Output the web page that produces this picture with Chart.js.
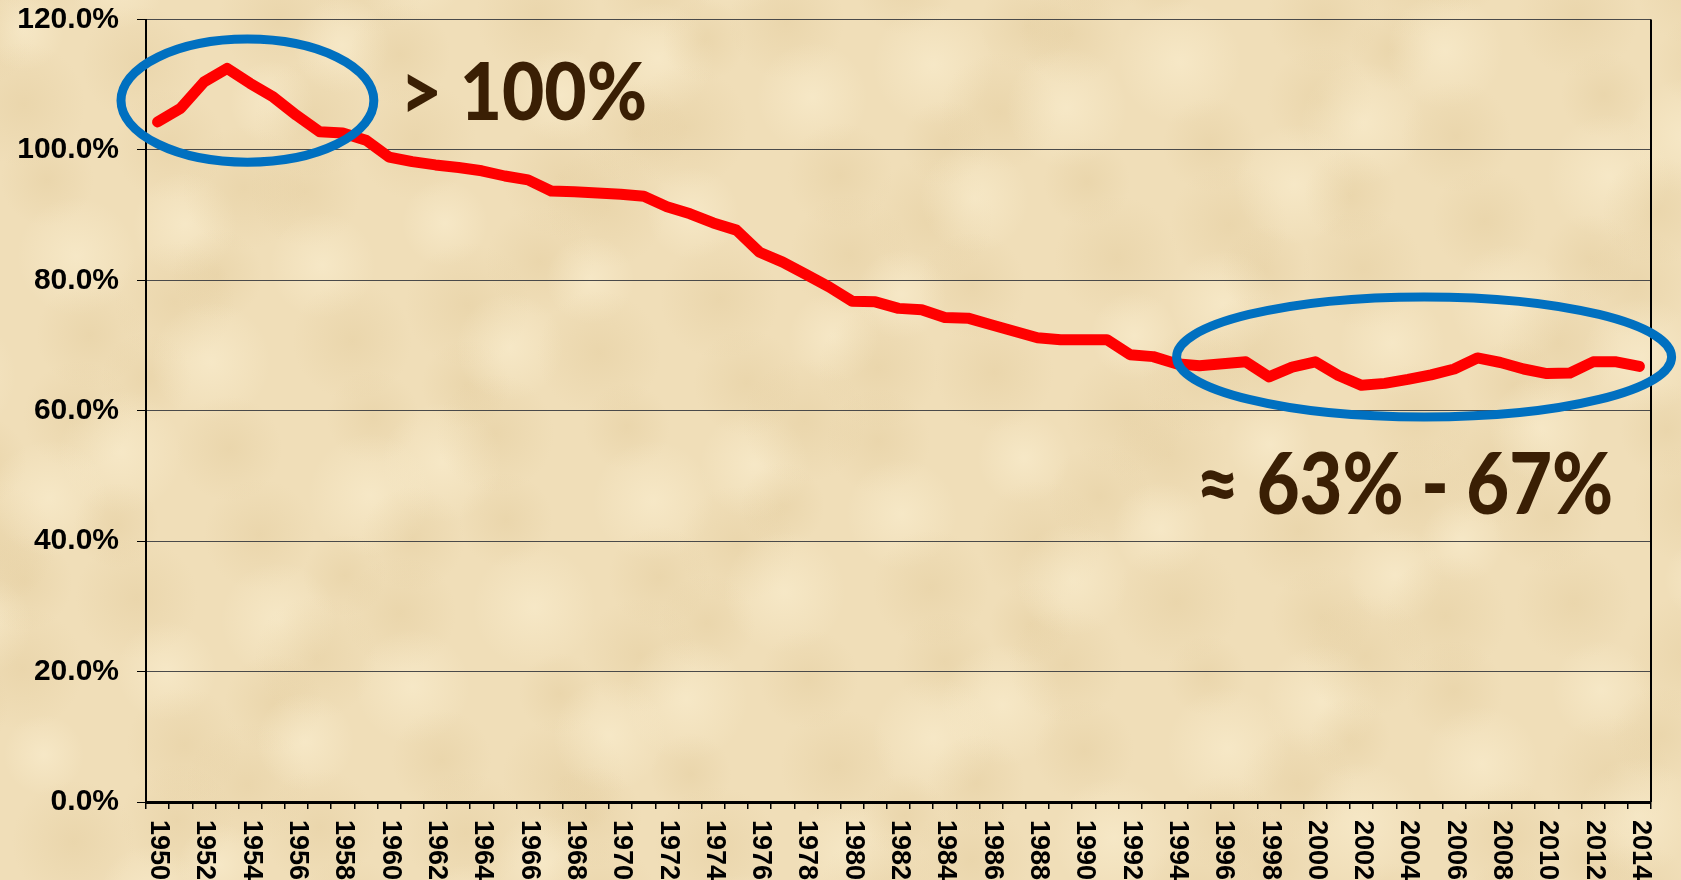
<!DOCTYPE html>
<html>
<head>
<meta charset="utf-8">
<script src="https://cdn.jsdelivr.net/npm/chart.js@4/dist/chart.umd.min.js"></script>
<style>
  html, body { margin: 0; padding: 0; background: #f0deb8; overflow: hidden; }
  #wrap { width: 1681px; height: 880px; }
</style>
</head>
<body>
<div id="wrap"><canvas id="c" width="1681" height="880"></canvas></div>
<script>
// ---- data ----
const years = ['1950','1951','1952','1953','1954','1955','1956','1957','1958','1959',
  '1960','1961','1962','1963','1964','1965','1966','1967','1968','1969',
  '1970','1971','1972','1973','1974','1975','1976','1977','1978','1979',
  '1980','1981','1982','1983','1984','1985','1986','1987','1988','1989',
  '1990','1991','1992','1993','1994','1995','1996','1997','1998','1999',
  '2000','2001','2002','2003','2004','2005','2006','2007','2008','2009',
  '2010','2011','2012','2013','2014'];
const ratio = [104.3,106.4,110.4,112.5,110.2,108.1,105.3,102.8,102.6,101.5,
  98.9,98.2,97.7,97.3,96.8,96.0,95.4,93.7,93.6,93.4,
  93.2,92.9,91.3,90.2,88.8,87.7,84.3,82.8,80.9,79.0,
  76.8,76.7,75.7,75.5,74.3,74.2,73.2,72.2,71.2,70.9,
  70.9,70.9,68.6,68.3,67.2,66.9,67.2,67.5,65.2,66.7,
  67.5,65.4,63.9,64.2,64.8,65.5,66.4,68.1,67.4,66.4,
  65.7,65.8,67.5,67.5,66.8];
const yTicks = [0, 20, 40, 60, 80, 100, 120];
const xLabelEvery = 2;
const notes = [
  { text: '> 100%', x: 10.47, y: 104.6, digitH: 57, width: 247 },
  { text: '≈ 63% - 67%', x: 44.86, y: 44.2, digitH: 61, width: 417 }
];
const rings = [
  { x: 3.88, y: 107.56, rx: 5.46, ry: 9.44 },
  { x: 54.70, y: 68.25, rx: 10.69, ry: 9.21 }
];

// ---- plugins ----
const parchment = {
  id: 'parchment',
  beforeDraw(chart) {
    const ctx = chart.ctx, W = chart.width, H = chart.height;
    ctx.save();
    ctx.fillStyle = '#f0deb8';
    ctx.fillRect(0, 0, W, H);
    let k = 0;
    for (let gy = -40; gy < H + 80; gy += 80) {
      for (let gx = -40; gx < W + 80; gx += 95) {
        k++;
        const ox = gx + 35 * Math.sin(k * 1.7);
        const oy = gy + 25 * Math.cos(k * 2.3);
        const r = 40 + 22 * Math.abs(Math.sin(k * 0.9));
        const dark = (k % 3) !== 0;
        const g = ctx.createRadialGradient(ox, oy, 0, ox, oy, r);
        g.addColorStop(0, dark ? 'rgba(214,186,130,0.22)' : 'rgba(252,241,212,0.5)');
        g.addColorStop(1, dark ? 'rgba(214,186,130,0)' : 'rgba(252,241,212,0)');
        ctx.fillStyle = g;
        ctx.fillRect(ox - r, oy - r, 2 * r, 2 * r);
      }
    }
    ctx.restore();
  }
};

const extras = {
  id: 'extras',
  afterDraw(chart) {
    const ctx = chart.ctx, xs = chart.scales.x, ys = chart.scales.y, ca = chart.chartArea;
    ctx.save();
    // right frame line
    ctx.strokeStyle = '#000';
    ctx.lineWidth = 2;
    ctx.beginPath();
    ctx.moveTo(ca.right, ca.top);
    ctx.lineTo(ca.right, ca.bottom);
    ctx.stroke();

    // rotated x labels (clockwise)
    ctx.fillStyle = '#000';
    ctx.font = 'bold 27px "Liberation Sans", Arial, sans-serif';
    ctx.textAlign = 'left';
    ctx.textBaseline = 'middle';
    years.forEach((lab, i) => {
      if (i % xLabelEvery !== 0) return;
      const px = xs.getPixelForValue(i);
      ctx.save();
      ctx.translate(px + 1, xs.top + 18);
      ctx.rotate(Math.PI / 2);
      ctx.fillText(lab, 0, 0);
      ctx.restore();
    });

    // ellipses
    ctx.strokeStyle = '#0070c0';
    ctx.lineWidth = 9;
    rings.forEach(r => {
      const cx = xs.getPixelForValue(r.x), cy = ys.getPixelForValue(r.y);
      const rx = xs.getPixelForValue(r.x + r.rx) - cx;
      const ry = cy - ys.getPixelForValue(r.y + r.ry);
      ctx.beginPath();
      ctx.ellipse(cx, cy, rx, ry, 0, 0, Math.PI * 2);
      ctx.stroke();
    });

    // annotation texts
    ctx.fillStyle = '#3a1f04';
    ctx.textAlign = 'left';
    ctx.textBaseline = 'alphabetic';
    notes.forEach(n => {
      const size = n.digitH / 0.7165;
      ctx.font = '900 ' + size.toFixed(1) + 'px Lato, "Open Sans", sans-serif';
      const w = ctx.measureText(n.text).width;
      const sx = n.width / w;
      const px = xs.getPixelForValue(n.x), py = ys.getPixelForValue(n.y);
      ctx.save();
      ctx.translate(px, py);
      ctx.scale(sx, 1);
      ctx.fillText(n.text, 0, 0);
      ctx.restore();
    });
    ctx.restore();
  }
};

new Chart(document.getElementById('c'), {
  type: 'line',
  data: {
    labels: years,
    datasets: [{
      data: ratio,
      borderColor: '#ff0000',
      borderWidth: 11,
      borderJoinStyle: 'round',
      borderCapStyle: 'round',
      pointRadius: 0,
      tension: 0,
      fill: false
    }]
  },
  options: {
    responsive: false,
    devicePixelRatio: 1,
    animation: false,
    layout: { padding: { top: 19.5, right: 30, left: 0, bottom: 0 } },
    plugins: { legend: { display: false }, tooltip: { enabled: false } },
    scales: {
      x: {
        type: 'category',
        offset: true,
        grid: { offset: true, drawOnChartArea: false, drawTicks: true, tickLength: 7, color: '#000', lineWidth: 1.5 },
        border: { display: true, color: '#000', width: 3 },
        ticks: { display: false, autoSkip: false },
        afterFit(s) { s.height = 78; s.paddingLeft = 0; s.paddingRight = 0; }
      },
      y: {
        min: 0, max: 120,
        afterBuildTicks(s) { s.ticks = yTicks.map(v => ({ value: v })); },
        ticks: {
          callback: v => v.toFixed(1) + '%',
          color: '#000',
          font: { family: '"Liberation Sans", Arial, sans-serif', weight: 'bold', size: 30 },
          padding: 18
        },
        grid: { color: '#4a4a4a', lineWidth: 1, tickLength: 9, tickColor: '#000' },
        border: { display: true, color: '#000', width: 2 },
        afterFit(s) { s.width = 146; s.paddingTop = 0; s.paddingBottom = 0; }
      }
    }
  },
  plugins: [parchment, extras]
});
</script>
</body>
</html>
